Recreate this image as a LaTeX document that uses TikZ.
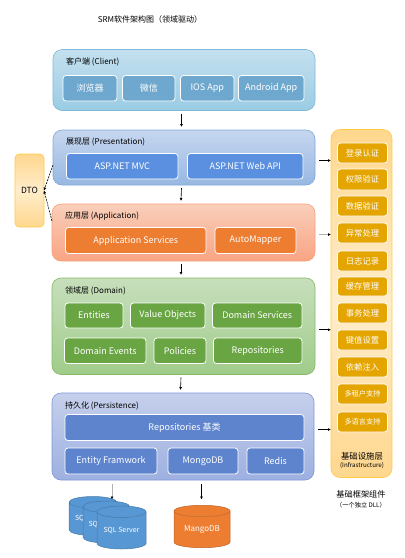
\documentclass[tikz,border=0pt]{standalone}
\usepackage{fontspec}
\setmainfont{Noto Sans CJK SC}
\usetikzlibrary{shapes.geometric,arrows.meta}
\definecolor{cinner}{HTML}{6FA8CF}
\definecolor{pinner}{HTML}{5B90E0}
\definecolor{ainner}{HTML}{ED7D31}
\definecolor{dinner}{HTML}{6AA544}
\definecolor{rinner}{HTML}{5F84CE}
\definecolor{yinner}{HTML}{E5A500}
\definecolor{blued}{HTML}{5797D3}
\definecolor{ctop}{HTML}{C4E0EF}\definecolor{cbot}{HTML}{9ACCE4}\definecolor{cln}{HTML}{7FB9DA}
\definecolor{ptop}{HTML}{C6D6EE}\definecolor{pbot}{HTML}{97B8E3}\definecolor{pln}{HTML}{7FA6DC}
\definecolor{atop}{HTML}{F9CFBB}\definecolor{abot}{HTML}{F9A483}\definecolor{aln}{HTML}{F4A27C}
\definecolor{dtop}{HTML}{C7DFBC}\definecolor{dbot}{HTML}{A0CC8A}\definecolor{dln}{HTML}{84BA66}
\definecolor{rtop}{HTML}{C6D0EC}\definecolor{rbot}{HTML}{9DB0E0}\definecolor{rln}{HTML}{7F97D8}
\definecolor{ytop}{HTML}{FFD78E}\definecolor{ymid}{HTML}{FFEDCB}\definecolor{yln}{HTML}{FFCB45}
\tikzset{
 x=1pt,y=-1pt,
 panel/.style={rounded corners=9pt,draw=#1,line width=.6pt,anchor=north west,inner sep=0,outer sep=0},
 inbox/.style={rounded corners=3pt,draw=white,line width=.8pt,text=white,font=\fontsize{9}{10}\selectfont,inner sep=0,outer sep=0},
 lbl/.style={anchor=west,inner sep=0,font=\fontsize{8}{9}\selectfont},
 yellowbox/.style={draw=yln,line width=.6pt,top color=ytop,bottom color=ytop,middle color=ymid,inner sep=0,outer sep=0},
 arr/.style={-{Latex[length=3pt,width=3pt,black]},line width=.6pt,black},
 dsh/.style={arr,dash pattern=on 2pt off 1pt},
 db/.style={draw=#1!80!black,cylinder,shape border rotate=90,aspect=.32,cylinder uses custom fill,cylinder body fill=#1,cylinder end fill=#1,text=white,inner sep=0,outer sep=0,line width=.5pt,font=\fontsize{7}{8}\selectfont,anchor=center},
}
\newcommand{\bx}[7]{\node[inbox,fill=#2,minimum width=#5pt-#3pt,minimum height=#6pt-#4pt] (#1) at ({(#3+#5)/2},{(#4+#6)/2}) {#7};}
\newcommand{\pn}[7]{\node[panel=#2ln,top color=#2top,bottom color=#2bot,minimum width=#5pt-#3pt,minimum height=#6pt-#4pt] (#1) at (#3,#4) {};\node[lbl] (#1l) at (#3+13,#4+12.5) {#7};}
\begin{document}
\begin{tikzpicture}
\useasboundingbox (0,0) rectangle (405,558);
\node[inner sep=0,font=\fontsize{8}{9}\selectfont] (title) at (150,19) {SRM软件架构图（领域驱动）};
% infrastructure
\node[yellowbox,rounded corners=9pt,minimum width=61pt,minimum height=348pt] (infra) at (361.5,303.5) {};
\node[inner sep=0,font=\fontsize{8.4}{9}\selectfont] (infral) at (362,456) {基础设施层};
\node[inner sep=0,font=\fontsize{6.2}{7}\selectfont] (infrall) at (362,465.5) {(Infrastructure)};
\node[inner sep=0,font=\fontsize{8.2}{9}\selectfont] (fw) at (361,494) {基础框架组件};
\node[inner sep=0,font=\fontsize{6.2}{7}\selectfont] (fwl) at (361,505) {（一个独立 DLL）};
\foreach \n/\a/\b/\t/\s in {i1/143/163/登录认证/8.3,i2/169/190/权限验证/8.3,i3/196/216/数据验证/8.3,i4/223/243/异常处理/8.3,i5/251/271/日志记录/8.3,i6/277/296/缓存管理/8.3,i7/303/323/事务处理/8.3,i8/330/350/键值设置/8.3,i9/357/377/依赖注入/8.3,i10/384/404/多租户支持/7.2,i11/412/432/多语言支持/7.2}{
 \node[inbox,fill=yinner,font=\fontsize{\s}{9}\selectfont,minimum width=50pt,minimum height=\b pt-\a pt] (\n) at (362.5,{(\a+\b)/2}) {\t};
}
% DTO
\node[yellowbox,rounded corners=4pt,minimum width=29pt,minimum height=73pt,font=\fontsize{8.5}{9}\selectfont] (dto) at (29.5,190.5) {DTO};
% client
\pn{client}{c}{53}{49.5}{315}{110.5}{客户端 (Client)}
\bx{c1}{cinner}{63}{75.5}{117}{101}{浏览器}
\bx{c2}{cinner}{122.5}{75.5}{175}{101}{微信}
\bx{c3}{cinner}{180.5}{75.5}{234}{101}{IOS App}
\bx{c4}{cinner}{238.5}{75.5}{304}{101}{Android App}
% presentation
\pn{pres}{p}{53}{130}{315}{185}{展现层 (Presentation)}
\bx{p1}{pinner}{66.5}{153.5}{178}{179}{ASP.NET MVC}
\bx{p2}{pinner}{187.5}{153.5}{303}{179}{ASP.NET Web API}
% application
\pn{app}{a}{52}{204}{315}{261}{应用层 (Application)}
\bx{a1}{ainner}{65.5}{227.5}{206}{253.5}{Application Services}
\bx{a2}{ainner}{215}{227.5}{296}{253.5}{AutoMapper}
% domain
\pn{dom}{d}{52}{278}{315}{374.5}{领域层 (Domain)}
\bx{d1}{dinner}{65}{303}{123}{328}{Entities}
\bx{d2}{dinner}{130.5}{303}{205}{328}{Value Objects}
\bx{d3}{dinner}{212.5}{303}{302}{328}{Domain Services}
\bx{d4}{dinner}{64.5}{338}{146}{363.5}{Domain Events}
\bx{d5}{dinner}{154}{338}{206}{363.5}{Policies}
\bx{d6}{dinner}{213.5}{338}{302}{363.5}{Repositories}
% persistence
\pn{per}{r}{52}{393}{314}{480}{持久化 (Persistence)}
\bx{r1}{rinner}{65}{414.5}{304}{440.5}{Repositories 基类}
\bx{r2}{rinner}{65}{448}{157}{474}{Entity Framwork}
\bx{r3}{rinner}{168}{448}{238}{474}{MongoDB}
\bx{r4}{rinner}{247}{448}{304}{474}{Redis}
% databases
\node[db=blued,minimum width=48pt,minimum height=39pt] (s1) at (93,519) {SQL Server};
\node[db=blued,minimum width=47pt,minimum height=42pt] (s2) at (106.5,525) {SQL Server};
\node[db=blued,minimum width=49pt,minimum height=43pt] (s3) at (121.5,530.5) {SQL Server};
\node[db=ainner,minimum width=56pt,minimum height=42.5pt,font=\fontsize{8}{9}\selectfont] (m1) at (202,529.5) {MangoDB};
% vertical arrows
\foreach \a/\b in {client/pres,pres/app,app/dom,dom/per}
 \draw[arr] ([xshift=-2.5pt,yshift=-3pt]\a.south) -- ([xshift=-2.5pt,yshift=3pt]\b.north);
% side arrows
\draw[arr] ([xshift=4pt,yshift=-3pt]pres.east) -- ([yshift=-3pt]pres.east -| infra.west);
\draw[arr,black!30] ([xshift=4pt,yshift=-2pt]app.east) -- ([yshift=-2pt]app.east -| infra.west);
\draw[arr] ([xshift=4pt,yshift=-3.5pt]dom.east) -- ([yshift=-3.5pt]dom.east -| infra.west);
\draw[arr] ([xshift=4pt,yshift=7pt]per.east) -- ([yshift=7pt]per.east -| infra.west);
% dashed to DTO
\draw[dsh] ([yshift=-7.5pt]pres.west) -- (dto.east);
\draw[dsh] ([yshift=11.5pt]app.west) -- (dto.east);
% down to databases
\coordinate (sqlfrom) at (112,484);
\coordinate (sqlto) at (112,499.5);
\coordinate (mgfrom) at (201.5,484);
\coordinate (mgto) at (201.5,499.5);
\draw[arr,black!30] (sqlfrom) -- (sqlto);
\draw[arr] (mgfrom) -- (mgto);
\end{tikzpicture}
\end{document}
